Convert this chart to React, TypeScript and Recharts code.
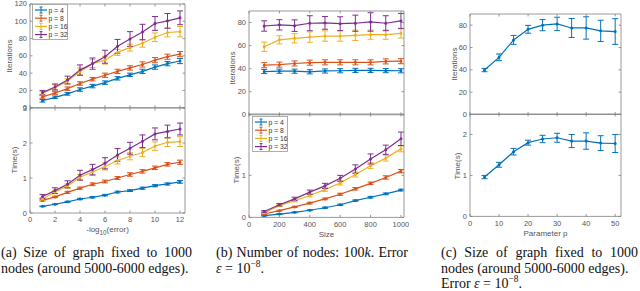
import React from 'react';
import { LineChart, Line, XAxis, YAxis, ErrorBar } from 'recharts';

const COLORS = ['#0072BD', '#D95319', '#EDB120', '#7E2F8E'];
const SERIES = ['p = 4', 'p = 8', 'p = 16', 'p = 32'];
const AXIS = '#808080';
const TEXT = '#555';
const TL = 2.5;

// (a) error level sweep, -log10(error)
const errLevels = [1, 2, 3, 4, 5, 6, 7, 8, 9, 10, 11, 12];
const aIter4 = [8, 12, 16, 21, 25, 29, 34, 38, 42, 47, 51, 54];
const aIter8 = [12.5, 17, 22, 28, 33, 37.5, 42, 46, 50, 55, 59, 62];
const aIter16 = [16.5, 23.5, 30.5, 42, 51, 55, 64, 69.5, 74.5, 81.5, 87, 88];
const aIter32 = [17.5, 24, 32, 43.5, 51, 59, 71, 79.5, 87.5, 97.5, 100.5, 104];
const aIterErr4 = [1.5, 1.5, 1.5, 2, 2, 2, 2, 2, 2.5, 2.5, 2.5, 3];
const aIterErr8 = [1.5, 1.5, 2, 2, 2, 2.5, 2.5, 2.5, 3, 3, 3, 3];
const aIterErr16 = [2, 3, 3, 4, 4.5, 4.5, 3.5, 4, 4.5, 5, 5, 6];
const aIterErr32 = [2.5, 3.5, 4.5, 6, 6.5, 7.5, 8, 8.5, 9, 8, 8.5, 8];
const aTime4 = [0.19, 0.25, 0.32, 0.4, 0.45, 0.51, 0.6, 0.64, 0.71, 0.78, 0.83, 0.89];
const aTime8 = [0.36, 0.46, 0.59, 0.71, 0.82, 0.9, 1.0, 1.1, 1.19, 1.29, 1.39, 1.45];
const aTime16 = [0.4, 0.6, 0.77, 1.02, 1.17, 1.33, 1.5, 1.62, 1.73, 1.91, 2.02, 2.04];
const aTime32 = [0.47, 0.64, 0.82, 1.08, 1.24, 1.42, 1.66, 1.85, 2.05, 2.26, 2.33, 2.4];
const aTimeErr4 = [0.01, 0.01, 0.015, 0.02, 0.02, 0.02, 0.025, 0.025, 0.03, 0.03, 0.03, 0.04];
const aTimeErr8 = [0.02, 0.02, 0.03, 0.03, 0.04, 0.04, 0.04, 0.05, 0.05, 0.05, 0.05, 0.06];
const aTimeErr16 = [0.04, 0.05, 0.06, 0.08, 0.09, 0.1, 0.1, 0.1, 0.12, 0.12, 0.12, 0.14];
const aTimeErr32 = [0.06, 0.08, 0.1, 0.14, 0.15, 0.16, 0.18, 0.17, 0.18, 0.17, 0.18, 0.17];

// (b) graph size sweep
const sizes = [100, 200, 300, 400, 500, 600, 700, 800, 900, 1000];
const bIter4 = [37.5, 37.8, 37.8, 37.3, 38, 38.2, 38.5, 38.5, 38.3, 38.2];
const bIter8 = [43, 43.5, 44.5, 45.2, 45.5, 45.5, 45.5, 45.5, 46.3, 46.5];
const bIter16 = [59, 65, 66.3, 67.4, 68.3, 68.3, 68.9, 69.5, 69.5, 70.6];
const bIter32 = [77, 78, 77.3, 79.4, 79.7, 79, 79.4, 80.5, 79.4, 81.4];
const bIterErr4 = [1.8, 1.8, 1.8, 1.8, 1.8, 1.8, 1.8, 1.8, 1.8, 1.8];
const bIterErr8 = [2.2, 2.2, 2.2, 2.2, 2.2, 2.2, 2.2, 2.2, 2.2, 2.2];
const bIterErr16 = [4, 3.5, 4, 4.5, 4.5, 4.5, 4.5, 4, 4, 4];
const bIterErr32 = [4.5, 4.5, 5, 6.5, 5.5, 6, 7, 8, 6.5, 6.5];
const bTime4 = [0.04, 0.08, 0.12, 0.17, 0.23, 0.3, 0.4, 0.48, 0.56, 0.65];
const bTime8 = [0.08, 0.16, 0.25, 0.34, 0.44, 0.55, 0.68, 0.81, 0.95, 1.1];
const bTime16 = [0.11, 0.28, 0.4, 0.52, 0.66, 0.82, 1.02, 1.23, 1.41, 1.63];
const bTime32 = [0.14, 0.3, 0.44, 0.6, 0.75, 0.93, 1.15, 1.39, 1.61, 1.87];
const bTimeErr4 = [0.01, 0.01, 0.01, 0.01, 0.015, 0.015, 0.015, 0.02, 0.02, 0.02];
const bTimeErr8 = [0.01, 0.01, 0.015, 0.02, 0.02, 0.025, 0.03, 0.03, 0.04, 0.04];
const bTimeErr16 = [0.02, 0.02, 0.03, 0.03, 0.04, 0.05, 0.06, 0.07, 0.07, 0.07];
const bTimeErr32 = [0.02, 0.03, 0.04, 0.05, 0.06, 0.07, 0.1, 0.12, 0.11, 0.16];

// (c) parameter p sweep
const params = [5, 10, 15, 20, 25, 30, 35, 40, 45, 50];
const cIter = [39.8, 51.2, 66.8, 76.3, 80, 81.1, 77.5, 77.5, 74.9, 74.3];
const cIterErr = [1.5, 3, 4, 3.5, 5, 6, 8.5, 10, 9.5, 11.5];
const cTime = [0.96, 1.26, 1.58, 1.8, 1.89, 1.92, 1.84, 1.84, 1.79, 1.78];
const cTimeErr = [0.04, 0.06, 0.08, 0.06, 0.09, 0.11, 0.16, 0.2, 0.18, 0.22];

const build = (xs: number[], vals: number[][], errs: number[][]) =>
  xs.map((x, i) => {
    const row: any = { x };
    vals.forEach((v, k) => {
      row['v' + k] = v[i];
      row['e' + k] = errs[k][i];
    });
    return row;
  });

const tickFont = { fontFamily: 'Liberation Sans, Arial, sans-serif', fontSize: 7.5, fill: TEXT };

const bottomTick = (labels: boolean) => (p: any) => (
  <g>
    <line x1={p.x} y1={p.y} x2={p.x} y2={p.y - TL} stroke={AXIS} strokeWidth={0.8} />
    {labels && (
      <text x={p.x} y={p.y + 6.8} textAnchor="middle" dominantBaseline="central" {...tickFont}>
        {p.payload.value}
      </text>
    )}
  </g>
);
const topTick = (p: any) => (
  <line x1={p.x} y1={p.y} x2={p.x} y2={p.y + TL} stroke={AXIS} strokeWidth={0.8} />
);
const leftTick = (p: any) => (
  <g>
    <line x1={p.x} y1={p.y} x2={p.x + TL} y2={p.y} stroke={AXIS} strokeWidth={0.8} />
    <text x={p.x - 3} y={p.y} textAnchor="end" dominantBaseline="central" {...tickFont}>
      {p.payload.value}
    </text>
  </g>
);
const rightTick = (p: any) => (
  <line x1={p.x} y1={p.y} x2={p.x - TL} y2={p.y} stroke={AXIS} strokeWidth={0.8} />
);

const ML = 30, MR = 4, MT = 4, MB = 14;
const axisLine = { stroke: AXIS, strokeWidth: 0.8 };

function Panel(props: {
  left: number; top: number; w: number; h: number;
  rows: any[]; n: number; colors: string[];
  xDomain: number[]; xTicks: number[]; yDomain: number[]; yTicks: number[];
  xLabels: boolean;
}) {
  const { left, top, w, h, rows, n, colors, xDomain, xTicks, yDomain, yTicks, xLabels } = props;
  const idx = Array.from({ length: n }, (_, i) => i);
  return (
    <div style={{ position: 'absolute', left: left - ML, top: top - MT - 1 }}>
      <LineChart
        width={ML + w + 1 + MR}
        height={MT + 1 + h + 1 + MB}
        data={rows}
        margin={{ top: MT, right: MR, bottom: MB, left: 0 }}
      >
        <XAxis xAxisId="b" dataKey="x" type="number" domain={xDomain} ticks={xTicks} interval={0}
          allowDataOverflow height={1} tickSize={0} tickMargin={0} tickLine={false}
          axisLine={axisLine} tick={bottomTick(xLabels)} />
        <XAxis xAxisId="t" orientation="top" dataKey="x" type="number" domain={xDomain} ticks={xTicks}
          interval={0} allowDataOverflow height={1} tickSize={0} tickMargin={0} tickLine={false}
          axisLine={axisLine} tick={topTick} />
        <YAxis yAxisId="l" type="number" domain={yDomain} ticks={yTicks} interval={0} allowDataOverflow
          width={ML} tickSize={0} tickMargin={0} tickLine={false}
          axisLine={axisLine} tick={leftTick} />
        <YAxis yAxisId="r" orientation="right" type="number" domain={yDomain} ticks={yTicks} interval={0}
          allowDataOverflow width={1} tickSize={0} tickMargin={0} tickLine={false}
          axisLine={axisLine} tick={rightTick} />
        {idx.map(k => (
          <Line key={k} xAxisId="b" yAxisId="l" dataKey={'v' + k} stroke={colors[k]} strokeWidth={1.2}
            dot={{ r: 0.9, fill: colors[k], stroke: colors[k] }} isAnimationActive={false}>
            <ErrorBar dataKey={'e' + k} width={3} stroke={colors[k]} strokeWidth={1} isAnimationActive={false} />
          </Line>
        ))}
      </LineChart>
    </div>
  );
}

function LegendBox({ left, top }: { left: number; top: number }) {
  return (
    <svg style={{ position: 'absolute', left, top }} width={37} height={37}>
      <rect x={0.5} y={0.5} width={35} height={35} fill="#fff" stroke="#9a9a9a" strokeWidth={0.8} />
      {SERIES.map((s, i) => {
        const y = 6 + i * 8.2;
        return (
          <g key={s}>
            <line x1={3} y1={y} x2={15} y2={y} stroke={COLORS[i]} strokeWidth={1.2} />
            <line x1={9} y1={y - 3} x2={9} y2={y + 3} stroke={COLORS[i]} strokeWidth={1} />
            <line x1={7.5} y1={y - 3} x2={10.5} y2={y - 3} stroke={COLORS[i]} strokeWidth={1} />
            <line x1={7.5} y1={y + 3} x2={10.5} y2={y + 3} stroke={COLORS[i]} strokeWidth={1} />
            <text x={16.5} y={y} dominantBaseline="central" fontFamily="Liberation Sans, Arial, sans-serif"
              fontSize={6.8} fill="#333">{s}</text>
          </g>
        );
      })}
    </svg>
  );
}

const labelFont: React.CSSProperties = {
  position: 'absolute', fontFamily: 'Liberation Sans, Arial, sans-serif', fontSize: 8,
  color: TEXT, whiteSpace: 'nowrap', lineHeight: 1,
};

function XLabel({ x, y, children }: any) {
  return <div style={{ ...labelFont, left: x, top: y, transform: 'translate(-50%,-50%)' }}>{children}</div>;
}
function YLabel({ x, y, children }: any) {
  return (
    <div style={{ ...labelFont, left: x, top: y, transform: 'translate(-50%,-50%) rotate(-90deg)' }}>
      {children}
    </div>
  );
}

const capFont: React.CSSProperties = {
  position: 'absolute', fontFamily: 'Liberation Serif, Times New Roman, serif', fontSize: 14,
  lineHeight: '15.5px', color: '#111', top: 245,
};
const sup: React.CSSProperties = { fontSize: 9.5, verticalAlign: 'super', lineHeight: 0 };

export default function App() {
  const colors1 = [COLORS[0]];
  return (
    <div style={{ position: 'absolute', left: 0, top: 0, width: 640, height: 291, background: '#fff', overflow: 'hidden' }}>
      {/* (a) */}
      <Panel left={30} top={4} w={155} h={103.7} n={4} colors={COLORS}
        rows={build(errLevels, [aIter4, aIter8, aIter16, aIter32], [aIterErr4, aIterErr8, aIterErr16, aIterErr32])}
        xDomain={[0, 12.4]} xTicks={[0, 2, 4, 6, 8, 10, 12]} yDomain={[0, 120]} yTicks={[0, 20, 40, 60, 80, 100, 120]}
        xLabels={false} />
      <Panel left={30} top={107.7} w={155} h={105} n={4} colors={COLORS}
        rows={build(errLevels, [aTime4, aTime8, aTime16, aTime32], [aTimeErr4, aTimeErr8, aTimeErr16, aTimeErr32])}
        xDomain={[0, 12.4]} xTicks={[0, 2, 4, 6, 8, 10, 12]} yDomain={[0, 3]} yTicks={[0, 1, 2, 3]}
        xLabels={true} />
      <LegendBox left={32} top={4} />
      <YLabel x={10} y={56}>Iterations</YLabel>
      <YLabel x={15} y={160}>Time(s)</YLabel>
      <XLabel x={107.5} y={229.5}>-log<sub style={{ fontSize: 6.3, verticalAlign: 'sub', lineHeight: 0 }}>10</sub>(error)</XLabel>

      {/* (b) */}
      <Panel left={249} top={10.5} w={155} h={103.8} n={4} colors={COLORS}
        rows={build(sizes, [bIter4, bIter8, bIter16, bIter32], [bIterErr4, bIterErr8, bIterErr16, bIterErr32])}
        xDomain={[0, 1020]} xTicks={[0, 200, 400, 600, 800, 1000]} yDomain={[0, 90]} yTicks={[0, 20, 40, 60, 80]}
        xLabels={false} />
      <Panel left={249} top={114.3} w={155} h={103.4} n={4} colors={COLORS}
        rows={build(sizes, [bTime4, bTime8, bTime16, bTime32], [bTimeErr4, bTimeErr8, bTimeErr16, bTimeErr32])}
        xDomain={[0, 1020]} xTicks={[0, 200, 400, 600, 800, 1000]} yDomain={[0, 2.46]} yTicks={[0, 1]}
        xLabels={true} />
      <LegendBox left={252} top={116} />
      <YLabel x={233} y={68}>Iterations</YLabel>
      <YLabel x={237} y={170}>Time(s)</YLabel>
      <XLabel x={326.5} y={235}>Size</XLabel>

      {/* (c) */}
      <Panel left={470} top={13.8} w={151} h={100.5} n={1} colors={colors1}
        rows={build(params, [cIter], [cIterErr])}
        xDomain={[0, 52]} xTicks={[0, 10, 20, 30, 40, 50]} yDomain={[0, 90]} yTicks={[0, 20, 40, 60, 80]}
        xLabels={false} />
      <Panel left={470} top={114.3} w={151} h={102.4} n={1} colors={colors1}
        rows={build(params, [cTime], [cTimeErr])}
        xDomain={[0, 52]} xTicks={[0, 10, 20, 30, 40, 50]} yDomain={[0, 2.5]} yTicks={[0, 1, 2]}
        xLabels={true} />
      <YLabel x={455} y={64}>Iterations</YLabel>
      <YLabel x={458} y={166}>Time(s)</YLabel>
      <XLabel x={545.5} y={233.5}>Parameter p</XLabel>

      {/* captions */}
      <div style={{ ...capFont, left: 1, width: 191 }}>
        <div style={{ textAlign: 'justify', textAlignLast: 'justify' }}>(a) Size of graph fixed to 1000</div>
        <div>nodes (around 5000-6000 edges).</div>
      </div>
      <div style={{ ...capFont, left: 216, width: 192 }}>
        <div style={{ textAlign: 'justify', textAlignLast: 'justify' }}>(b) Number of nodes: 100<i>k</i>. Error</div>
        <div><i>ε</i> = 10<span style={sup}>−8</span>.</div>
      </div>
      <div style={{ ...capFont, left: 441, width: 197 }}>
        <div style={{ textAlign: 'justify', textAlignLast: 'justify' }}>(c) Size of graph fixed to 1000</div>
        <div>nodes (around 5000-6000 edges).</div>
        <div>Error <i>ε</i> = 10<span style={sup}>−8</span>.</div>
      </div>
    </div>
  );
}
